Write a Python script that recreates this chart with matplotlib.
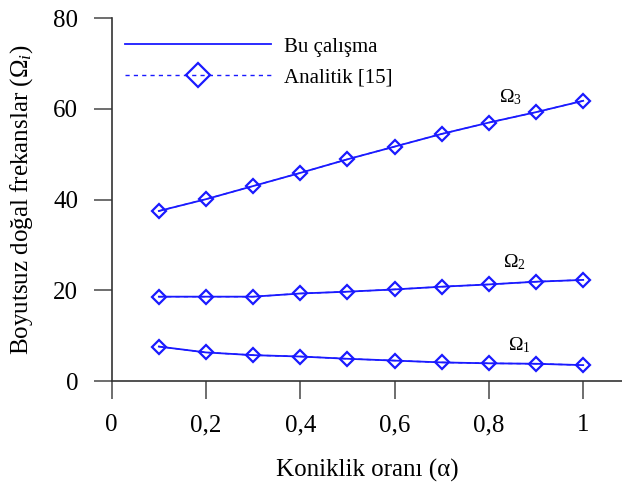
import numpy as np
import matplotlib
matplotlib.use('Agg')
import matplotlib.pyplot as plt

plt.rcParams['font.family'] = ['Liberation Serif', 'DejaVu Serif']
plt.rcParams['mathtext.fontset'] = 'custom'
plt.rcParams['mathtext.rm'] = 'Liberation Serif'
plt.rcParams['mathtext.it'] = 'Liberation Serif:italic'

# koniklik orani
alpha = [0.1, 0.2, 0.3, 0.4, 0.5, 0.6, 0.7, 0.8, 0.9, 1.0]

# bu calisma
omega1 = [7.6, 6.3, 5.7, 5.4, 4.9, 4.5, 4.1, 3.9, 3.8, 3.5]
omega2 = [18.6, 18.6, 18.6, 19.3, 19.7, 20.2, 20.8, 21.3, 21.9, 22.3]
omega3 = [37.5, 40.1, 43.0, 45.9, 48.9, 51.7, 54.5, 57.0, 59.3, 61.8]

# analitik [15]
ana1 = [7.6, 6.3, 5.7, 5.4, 4.9, 4.5, 4.1, 3.9, 3.8, 3.5]
ana2 = [18.6, 18.6, 18.6, 19.3, 19.7, 20.2, 20.8, 21.3, 21.9, 22.3]
ana3 = [37.5, 40.1, 43.0, 45.9, 48.9, 51.7, 54.5, 57.0, 59.3, 61.8]

xticks = [0, 0.2, 0.4, 0.6, 0.8, 1]
xticklabels = ['0', '0,2', '0,4', '0,6', '0,8', '1']
yticks = [0, 20, 40, 60, 80]

blue = '#1a1aff'

fig = plt.figure(figsize=(6.22, 4.82), dpi=100)
ax = fig.add_axes([111.7 / 622, 101 / 482, (622 - 111.7) / 622, 362.7 / 482])

for i, (y, ya) in enumerate([(omega1, ana1), (omega2, ana2), (omega3, ana3)]):
    ax.plot(alpha, y, '-', color=blue, lw=1.3,
            label='Bu çalışma' if i == 0 else None)
    ax.plot(alpha, ya, '--', color=blue, lw=1.0, dashes=(3, 3),
            marker='D', ms=7.6, mfc='none', mec=blue, mew=1.6,
            label='Analitik [15]' if i == 0 else None)

ax.text(0.845, 62.6, r'$\Omega_3$', fontsize=14, ha='center', va='center')
ax.text(0.855, 26.2, r'$\Omega_2$', fontsize=14, ha='center', va='center')
ax.text(0.865, 7.9, r'$\Omega_1$', fontsize=14, ha='center', va='center')

ax.set_xlim(0, 510.3 / 471.5)
ax.set_ylim(0, 80)
ax.set_xticks(xticks)
ax.set_xticklabels(xticklabels)
ax.set_yticks(yticks)
ax.tick_params(direction='out', length=13, width=1.2, labelsize=18, pad=11,
               color='#555555')
for s in ['top', 'right']:
    ax.spines[s].set_visible(False)
for s in ['left', 'bottom']:
    ax.spines[s].set_linewidth(1.2)
    ax.spines[s].set_color('#333333')

ax.set_xlabel('Koniklik oranı (α)', fontsize=18, labelpad=16)
ax.set_ylabel(r'Boyutsuz doğal frekanslar ($\Omega_i$)', fontsize=18, labelpad=13)

ax.legend(loc='upper left', frameon=False, fontsize=15, handlelength=7.0,
          handletextpad=0.6, markerscale=1.65, labelspacing=0.55,
          bbox_to_anchor=(-0.01, 1.0), borderaxespad=0.5)

fig.savefig('out.png', dpi=100)
